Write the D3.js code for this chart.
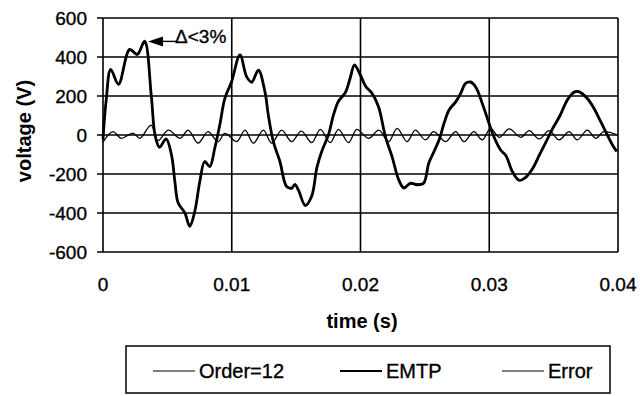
<!DOCTYPE html>
<html>
<head>
<meta charset="utf-8">
<script src="https://cdn.jsdelivr.net/npm/d3@7"></script>
<style>
  body { margin: 0; background: #fff; }
  svg { display: block; font-family: "Liberation Sans", Arial, sans-serif; }
  .lbl { stroke: #000; stroke-width: 0.35px; }
</style>
</head>
<body>
<svg width="640" height="396"></svg>
<script>
// values: [time (s), voltage (V)]
var emtp = [
  [0.00000, -20], [0.00025, 180], [0.00060, 337], [0.00120, 260], [0.00207, 439],
  [0.00266, 413], [0.00323, 481], [0.00375, 201], [0.00405, -3], [0.00439, -63],
  [0.00490, -20], [0.00532, -102], [0.00558, -238], [0.00584, -349], [0.00636, -400],
  [0.00674, -468], [0.00713, -391], [0.00752, -238], [0.00790, -136], [0.00829, -162],
  [0.00868, -68], [0.00907, 51], [0.00946, 187], [0.00998, 272], [0.01064, 411],
  [0.01116, 298], [0.01155, 272], [0.01207, 332], [0.01258, 221], [0.01284, 102],
  [0.01323, -34], [0.01374, -136], [0.01426, -264], [0.01465, -272], [0.01491, -255],
  [0.01520, -286], [0.01571, -362], [0.01622, -311], [0.01661, -167], [0.01700, -82],
  [0.01752, 3], [0.01791, 105], [0.01829, 173], [0.01881, 216], [0.01920, 292],
  [0.01953, 360], [0.01998, 309], [0.02040, 250], [0.02090, 213], [0.02140, 145],
  [0.02194, -9], [0.02245, -111], [0.02297, -230], [0.02336, -272], [0.02388, -247],
  [0.02439, -255], [0.02490, -247], [0.02530, -145], [0.02560, -100], [0.02610, -26],
  [0.02649, 60], [0.02688, 128], [0.02740, 170], [0.02778, 213], [0.02816, 264],
  [0.02855, 272], [0.02894, 247], [0.02946, 162], [0.02998, 60], [0.03036, -9],
  [0.03088, -77], [0.03129, -105], [0.03181, -190], [0.03233, -233], [0.03284, -216],
  [0.03336, -173], [0.03388, -105], [0.03440, -37], [0.03491, 31], [0.03550, 100],
  [0.03607, 180], [0.03659, 221], [0.03698, 221], [0.03762, 187], [0.03814, 136],
  [0.03866, 68], [0.03917, 0], [0.03957, -51], [0.03990, -85]
];

var order12 = [
  [0.00000, -25], [0.00025, 175], [0.00060, 330], [0.00120, 264], [0.00207, 432],
  [0.00266, 418], [0.00323, 470], [0.00375, 206], [0.00405, 2], [0.00439, -58],
  [0.00490, -24], [0.00532, -98], [0.00558, -232], [0.00584, -342], [0.00636, -404],
  [0.00674, -460], [0.00713, -396], [0.00752, -232], [0.00790, -140], [0.00829, -158],
  [0.00868, -72], [0.00907, 56], [0.00946, 192], [0.00998, 278], [0.01064, 404],
  [0.01116, 304], [0.01155, 266], [0.01207, 326], [0.01258, 226], [0.01284, 98],
  [0.01323, -38], [0.01374, -130], [0.01426, -258], [0.01465, -278], [0.01491, -250],
  [0.01520, -290], [0.01571, -356], [0.01622, -316], [0.01661, -162], [0.01700, -86],
  [0.01752, 8], [0.01791, 110], [0.01829, 178], [0.01881, 222], [0.01920, 300],
  [0.01953, 352], [0.01998, 314], [0.02040, 244], [0.02090, 218], [0.02140, 140],
  [0.02194, -4], [0.02245, -116], [0.02297, -226], [0.02336, -266], [0.02388, -252],
  [0.02439, -250], [0.02490, -252], [0.02530, -140], [0.02560, -104], [0.02610, -20],
  [0.02649, 66], [0.02688, 134], [0.02740, 176], [0.02778, 220], [0.02816, 270],
  [0.02855, 266], [0.02894, 242], [0.02946, 158], [0.02998, 66], [0.03036, -4],
  [0.03088, -72], [0.03129, -110], [0.03181, -184], [0.03233, -228], [0.03284, -222],
  [0.03336, -168], [0.03388, -100], [0.03440, -32], [0.03491, 36], [0.03550, 106],
  [0.03607, 186], [0.03659, 214], [0.03698, 226], [0.03762, 182], [0.03814, 132],
  [0.03866, 64], [0.03917, 4], [0.03957, -46], [0.03990, -80]
];

var error = [
  [0.00000, -37], [0.00078, 17], [0.00142, -17], [0.00233, 10], [0.00285, -17],
  [0.00374, 51], [0.00426, -29], [0.00508, 25], [0.00600, -17], [0.00661, 25],
  [0.00739, -42], [0.00816, 17], [0.00894, -34], [0.00946, 8], [0.01039, -34],
  [0.01103, 25], [0.01168, -42], [0.01246, 25], [0.01310, -42], [0.01388, 25],
  [0.01465, -34], [0.01540, 20], [0.01622, -39], [0.01688, 29], [0.01765, -39],
  [0.01829, 29], [0.01907, -39], [0.01971, 29], [0.02064, -17], [0.02142, 25],
  [0.02219, -34], [0.02284, 34], [0.02362, -34], [0.02426, 25], [0.02504, -25],
  [0.02568, 17], [0.02661, -34], [0.02739, 17], [0.02804, -34], [0.02881, 17],
  [0.02946, -25], [0.03010, 34], [0.03078, -12], [0.03155, 31], [0.03246, -12],
  [0.03310, 22], [0.03388, -20], [0.03465, 22], [0.03543, -25], [0.03620, 17],
  [0.03684, -25], [0.03762, 25], [0.03827, -17], [0.03891, 17], [0.04000, 0]
];

var xTicks = [0, 0.01, 0.02, 0.03, 0.04];
var xTickLabels = ["0", "0.01", "0.02", "0.03", "0.04"];
var yTicks = [600, 400, 200, 0, -200, -400, -600];
var note = { t: 0.0035, v: 480, text: "\u0394<3%" };

var svg = d3.select("svg");
var x = d3.scaleLinear().domain([0, 0.04]).range([103, 618]);
var y = d3.scaleLinear().domain([-600, 600]).range([252, 18]);

// grid
var grid = svg.append("g").attr("stroke", "#000").attr("stroke-width", 1.6);
grid.selectAll("line.h").data(yTicks).enter().append("line")
  .attr("x1", x(0) - 6).attr("x2", x(0.04))
  .attr("y1", function(d) { return y(d); }).attr("y2", function(d) { return y(d); });
grid.selectAll("line.v").data(xTicks).enter().append("line")
  .attr("x1", function(d) { return x(d); }).attr("x2", function(d) { return x(d); })
  .attr("y1", y(600)).attr("y2", y(-600));

// y labels
svg.append("g").selectAll("text").data(yTicks).enter().append("text")
  .attr("class", "lbl")
  .attr("x", 87).attr("y", function(d) { return y(d) + 7; })
  .attr("text-anchor", "end").attr("font-size", 19)
  .text(function(d) { return d; });

// x labels
svg.append("g").selectAll("text").data(xTicks).enter().append("text")
  .attr("class", "lbl")
  .attr("x", function(d) { return x(d); }).attr("y", 291)
  .attr("text-anchor", "middle").attr("font-size", 19)
  .text(function(d, i) { return xTickLabels[i]; });

svg.append("text").attr("x", 362).attr("y", 328)
  .attr("text-anchor", "middle").attr("font-size", 20).attr("font-weight", "bold")
  .text("time (s)");
svg.append("text").attr("transform", "translate(31,131) rotate(-90)")
  .attr("text-anchor", "middle").attr("font-size", 20).attr("font-weight", "bold")
  .text("voltage (V)");

// series
var line = d3.line().x(function(d) { return x(d[0]); }).y(function(d) { return y(d[1]); });
svg.append("path").datum(error)
  .attr("d", line.curve(d3.curveMonotoneX))
  .attr("fill", "none").attr("stroke", "#000").attr("stroke-width", 1.3);
svg.append("path").datum(emtp)
  .attr("d", line.curve(d3.curveCatmullRom))
  .attr("fill", "none").attr("stroke", "#000").attr("stroke-width", 2.8)
  .attr("stroke-linejoin", "round");
svg.append("path").datum(order12)
  .attr("d", line.curve(d3.curveCatmullRom))
  .attr("fill", "none").attr("stroke", "#000").attr("stroke-width", 1.1);

// annotation
var ax = x(note.t), ay = y(note.v);
svg.append("path")
  .attr("d", "M" + ax + "," + ay + "L" + (ax + 15) + "," + (ay - 5) + "L" + (ax + 15) + "," + (ay + 5) + "Z")
  .attr("fill", "#000");
svg.append("line").attr("x1", ax + 14).attr("x2", ax + 28).attr("y1", ay).attr("y2", ay)
  .attr("stroke", "#000").attr("stroke-width", 1.4);
svg.append("text").attr("class", "lbl").attr("x", ax + 27).attr("y", ay + 2).attr("font-size", 19)
  .text(note.text);

// legend
var legend = svg.append("g");
legend.append("rect").attr("x", 126).attr("y", 346).attr("width", 484).attr("height", 47)
  .attr("fill", "none").attr("stroke", "#000").attr("stroke-width", 1.5);
var items = [
  { name: "Order=12", x: 153, w: 1.2 },
  { name: "EMTP", x: 340, w: 2 },
  { name: "Error", x: 502, w: 1.2 }
];
var li = legend.selectAll("g.item").data(items).enter().append("g");
li.append("line").attr("x1", function(d) { return d.x; }).attr("x2", function(d) { return d.x + 42; })
  .attr("y1", 371).attr("y2", 371)
  .attr("stroke", "#000").attr("stroke-width", function(d) { return d.w; });
li.append("text").attr("class", "lbl").attr("x", function(d) { return d.x + 46; }).attr("y", 378)
  .attr("font-size", 20).text(function(d) { return d.name; });
</script>
</body>
</html>
